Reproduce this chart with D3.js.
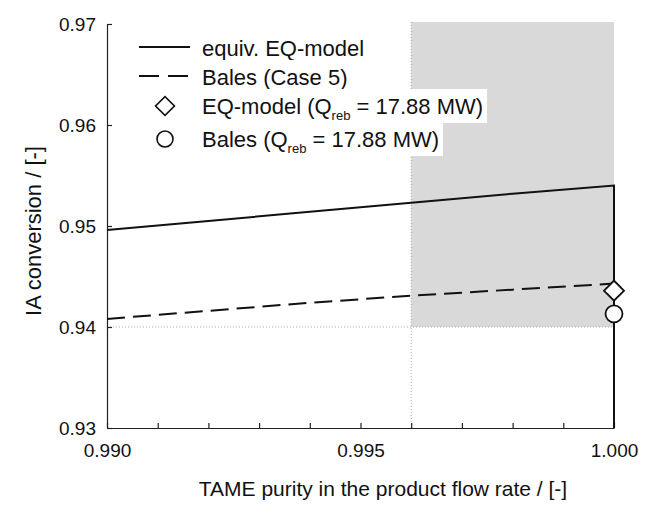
<!DOCTYPE html>
<html>
<meta charset="utf-8">
<script src="https://d3js.org/d3.v7.min.js"></script>
<style>
body { margin: 0; background: #fff; }
text { font-family: "Liberation Sans", Arial, sans-serif; fill: #111; }
</style>
<body>
<script>

// data
var purity = [0.990, 0.992, 0.994, 0.996, 0.998, 1.000];
var eqModel = [0.9496, 0.9505, 0.9514, 0.9523, 0.9532, 0.9540];
var balesCase5 = [0.9408, 0.9416, 0.9424, 0.9431, 0.9437, 0.9443];
var eqPoint = [1.000, 0.9436];
var balesPoint = [1.000, 0.9413];
var region = {x0: 0.996, x1: 1.000, y0: 0.940, y1: 0.9702};
var xLabelTicks = [0.990, 0.995, 1.000];
var yTicks = [0.93, 0.94, 0.95, 0.96, 0.97];

var width = 654, height = 505;
var svg = d3.select("body").append("svg")
  .attr("width", width)
  .attr("height", height);

var x = d3.scaleLinear().domain([0.990, 1.000]).range([107, 614]);
var y = d3.scaleLinear().domain([0.93, 0.97]).range([428, 24]);

// shaded region
svg.append("rect")
  .attr("x", x(region.x0))
  .attr("y", y(region.y1))
  .attr("width", x(region.x1) - x(region.x0))
  .attr("height", y(region.y0) - y(region.y1))
  .attr("fill", "#d9d9d9");

// dotted guides
svg.append("line")
  .attr("x1", x(0.990)).attr("x2", x(1.000))
  .attr("y1", y(0.94)).attr("y2", y(0.94))
  .attr("stroke", "#aaa").attr("stroke-width", 1).attr("stroke-dasharray", "1,2");
svg.append("line")
  .attr("x1", x(region.x0)).attr("x2", x(region.x0))
  .attr("y1", y(region.y1)).attr("y2", y(0.93))
  .attr("stroke", "#aaa").attr("stroke-width", 1).attr("stroke-dasharray", "1,2");

// axes
var xAx = d3.axisBottom(x)
  .tickValues(d3.range(0, 11).map(function(i){ return 0.990 + i * 0.001; }))
  .tickSizeInner(-5)
  .tickSizeOuter(0)
  .tickPadding(16)
  .tickFormat(function(d){
    var hit = xLabelTicks.some(function(t){ return Math.abs(t - d) < 1e-9; });
    return hit ? d3.format(".3f")(d) : "";
  });
var yAx = d3.axisLeft(y)
  .tickValues(yTicks)
  .tickSizeInner(-5)
  .tickSizeOuter(0)
  .tickPadding(11)
  .tickFormat(d3.format(".2f"));

var xGroup = svg.append("g")
  .attr("transform", "translate(0," + y(0.93) + ")")
  .call(xAx);
var yGroup = svg.append("g")
  .attr("transform", "translate(" + x(0.990) + ",0)")
  .call(yAx);
[xGroup, yGroup].forEach(function(g){
  g.selectAll("path, line").attr("stroke", "#222").attr("stroke-width", 1.2);
  g.selectAll("text").attr("font-size", 19).attr("fill", "#111")
    .style("font-family", "'Liberation Sans', Arial, sans-serif");
});

// lines
var line = d3.line()
  .x(function(d){ return x(d[0]); })
  .y(function(d){ return y(d[1]); });

var eqData = purity.map(function(p, i){ return [p, eqModel[i]]; });
eqData.push([1.000, 0.93]);
svg.append("path")
  .datum(eqData)
  .attr("d", line)
  .attr("fill", "none")
  .attr("stroke", "#111")
  .attr("stroke-width", 2);

svg.append("path")
  .datum(purity.map(function(p, i){ return [p, balesCase5[i]]; }))
  .attr("d", line)
  .attr("fill", "none")
  .attr("stroke", "#111")
  .attr("stroke-width", 2)
  .attr("stroke-dasharray", "18,8");

// markers
svg.append("path")
  .attr("d", d3.symbol().type(d3.symbolSquare).size(200))
  .attr("transform", "translate(" + x(eqPoint[0]) + "," + y(eqPoint[1]) + ") rotate(45)")
  .attr("fill", "#fff").attr("stroke", "#111").attr("stroke-width", 1.8);
svg.append("circle")
  .attr("cx", x(balesPoint[0])).attr("cy", y(balesPoint[1]))
  .attr("r", 8.5)
  .attr("fill", "#fff").attr("stroke", "#111").attr("stroke-width", 1.8);

// legend
var legendRows = [
  {label: ["equiv. EQ-model"], kind: "solid", cy: 48},
  {label: ["Bales (Case 5)"], kind: "dash", cy: 77},
  {label: ["EQ-model (Q", "reb", " = 17.88 MW)"], kind: "diamond", cy: 106},
  {label: ["Bales (Q", "reb", " = 17.88 MW)"], kind: "circle", cy: 139}
];

legendRows.forEach(function(r){
  var g = svg.append("g");
  var bg = g.append("rect").attr("fill", "#fff");
  var t = g.append("text")
    .attr("x", 202)
    .attr("y", r.cy)
    .attr("dy", "0.36em")
    .attr("font-size", 22);
  r.label.forEach(function(part, i){
    var ts = t.append("tspan").text(part);
    if (i === 1) ts.attr("font-size", 13).attr("dy", 6);
    if (i === 2) ts.attr("dy", -6);
  });
  var bb = t.node().getBBox();
  bg.attr("x", bb.x - 4).attr("y", r.cy - 17)
    .attr("width", bb.width + 8).attr("height", 34);

  if (r.kind === "solid") {
    g.append("line").attr("x1", 139).attr("x2", 190)
      .attr("y1", r.cy - 1).attr("y2", r.cy - 1)
      .attr("stroke", "#111").attr("stroke-width", 1.8);
  } else if (r.kind === "dash") {
    g.append("line").attr("x1", 139).attr("x2", 190)
      .attr("y1", r.cy - 1).attr("y2", r.cy - 1)
      .attr("stroke", "#111").attr("stroke-width", 1.8)
      .attr("stroke-dasharray", "20,9");
  } else if (r.kind === "diamond") {
    g.append("path")
      .attr("d", d3.symbol().type(d3.symbolSquare).size(180))
      .attr("transform", "translate(165," + r.cy + ") rotate(45)")
      .attr("fill", "#fff").attr("stroke", "#111").attr("stroke-width", 1.6);
  } else {
    g.append("circle").attr("cx", 165).attr("cy", r.cy).attr("r", 8)
      .attr("fill", "#fff").attr("stroke", "#111").attr("stroke-width", 1.6);
  }
});

// axis titles
svg.append("text")
  .attr("x", 383).attr("y", 496)
  .attr("text-anchor", "middle")
  .attr("font-size", 21)
  .text("TAME purity in the product flow rate / [-]");
svg.append("text")
  .attr("transform", "translate(41,231) rotate(-90)")
  .attr("text-anchor", "middle")
  .attr("font-size", 22)
  .text("IA conversion / [-]");

</script>
</body>
</html>
